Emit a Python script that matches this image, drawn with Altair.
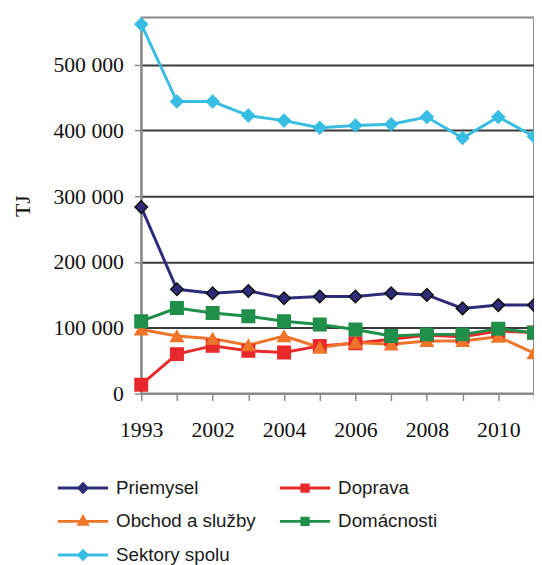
import altair as alt
import pandas as pd

years = ["1993", "2001", "2002", "2003", "2004", "2005", "2006", "2007", "2008", "2009", "2010", "2011"]
label_years = ["1993", "2002", "2004", "2006", "2008", "2010"]
series = ["Priemysel", "Doprava", "Obchod a služby", "Domácnosti", "Sektory spolu"]

priemysel = [283500, 158500, 152500, 156000, 145000, 147500, 147500, 152500, 150000, 129500, 134500, 134500]
doprava = [13500, 60000, 72500, 65000, 62500, 72500, 76500, 82500, 88500, 86500, 95000, 93000]
obchod = [97500, 87500, 83500, 73500, 87500, 70000, 77500, 75000, 80000, 80000, 86500, 61500]
domacnosti = [110000, 130000, 122500, 117500, 110000, 105000, 97500, 87500, 90000, 90000, 98500, 92500]
sektory = [561500, 444000, 444000, 422600, 415000, 404000, 407600, 409500, 420500, 388500, 420500, 391000]
y_ticks = [0, 100000, 200000, 300000, 400000, 500000]

line_colors = ["#2e2b7a", "#e8292b", "#f0742a", "#1f8f4a", "#38bde3"]
marker_strokes = ["#111111", "#e8292b", "#f0742a", "#1f8f4a", "#38bde3"]
marker_shapes = ["diamond", "square", "triangle-up", "square", "diamond"]
diamond_path = "M-2.55,0H2.55M0,-0.42L0.42,0L0,0.42L-0.42,0Z"
square_path = "M-2.55,0H2.55M-0.32,-0.32H0.32V0.32H-0.32Z"
triangle_path = "M-2.55,0H2.55M0,-0.45L0.42,0.3H-0.42Z"
legend_shapes = [diamond_path, square_path, triangle_path, square_path, diamond_path]

# legend is filled column by column, so list entries column-wise (2 columns, 3 rows)
legend_order = [0, 2, 4, 1, 3]
legend_domain = [series[i] for i in legend_order]
legend_colors = [line_colors[i] for i in legend_order]
legend_paths = [legend_shapes[i] for i in legend_order]

values = [priemysel, doprava, obchod, domacnosti, sektory]
rows = []
for name, vals in zip(series, values):
    for yr, v in zip(years, vals):
        rows.append({"year": yr, "series": name, "value": v})
df = pd.DataFrame(rows)

label_list = "[" + ",".join("'" + l + "'" for l in label_years) + "]"

x = alt.X(
    "year:O",
    scale=alt.Scale(type="point", padding=0, domain=years),
    axis=alt.Axis(
        title=None, labelAngle=0, grid=False,
        labelExpr="indexof(" + label_list + ", datum.value) >= 0 ? datum.value : ''",
        domainColor="#8a8a8a", domainWidth=2, tickColor="#8a8a8a", tickWidth=1.5, tickSize=7,
        labelFont="Liberation Serif", labelFontSize=22, labelColor="#111111", labelPadding=19,
    ),
)
y = alt.Y(
    "value:Q",
    scale=alt.Scale(domain=[0, 571600], nice=False, zero=True),
    axis=alt.Axis(
        title="TJ", values=y_ticks,
        labelExpr="replace(format(datum.value, ','), ',', ' ')",
        grid=True, gridColor="#3a3a3a", gridWidth=2,
        domainColor="#8a8a8a", domainWidth=2, tickColor="#8a8a8a", tickWidth=1.5, tickSize=7,
        labelFont="Liberation Serif", labelFontSize=22, labelColor="#111111", labelPadding=11,
        titleFont="Liberation Serif", titleFontSize=22, titleFontWeight="normal", titleColor="#111111",
        titlePadding=19,
    ),
)

lines = alt.Chart(df).mark_line(strokeWidth=3).encode(
    x=x, y=y,
    color=alt.Color("series:N", scale=alt.Scale(domain=series, range=line_colors), legend=None),
)

points = alt.Chart(df).mark_point(filled=True, opacity=1, size=160, strokeWidth=1.5).encode(
    x=x, y=y,
    shape=alt.Shape("series:N", scale=alt.Scale(domain=series, range=marker_shapes), legend=None),
    fill=alt.Fill("series:N", scale=alt.Scale(domain=series, range=line_colors), legend=None),
    stroke=alt.Stroke("series:N", scale=alt.Scale(domain=series, range=marker_strokes), legend=None),
)

leg = alt.Legend(
    title=None, orient="none", legendX=-86.5, legendY=465, columns=2,
    columnPadding=18, rowPadding=12, symbolSize=400, symbolOffset=16, labelOffset=22,
    labelFont="Liberation Sans", labelFontSize=19, labelColor="#1a1a1a", labelLimit=300,
    symbolStrokeWidth=3, padding=0,
)

legend_layer = alt.Chart(df).transform_filter("false").mark_point(filled=True, opacity=1, strokeWidth=3).encode(
    x=x, y=y,
    shape=alt.Shape("series:N", scale=alt.Scale(domain=legend_domain, range=legend_paths), legend=leg),
    fill=alt.Fill("series:N", scale=alt.Scale(domain=legend_domain, range=legend_colors), legend=leg),
    stroke=alt.Stroke("series:N", scale=alt.Scale(domain=legend_domain, range=legend_colors), legend=leg),
)

chart = alt.layer(lines, points, legend_layer).resolve_scale(
    shape="independent", fill="independent", stroke="independent"
).properties(
    width=398, height=381,
    padding={"left": 135, "top": 6, "right": 0, "bottom": 170},
    autosize=alt.AutoSizeParams(type="none"),
).configure_view(stroke="#8a8a8a", strokeWidth=2)

chart.save("out.html", embed_options={"renderer": "svg", "actions": False})
